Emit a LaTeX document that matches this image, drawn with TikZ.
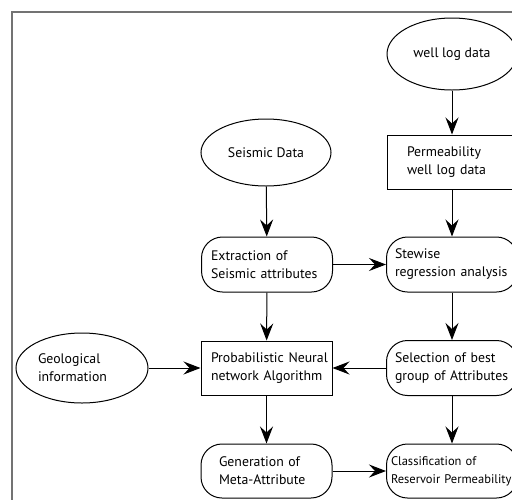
\documentclass[tikz,border=0pt]{standalone}
\usepackage{fontspec}
\setmainfont{PT Sans}
\usetikzlibrary{shapes.geometric,arrows.meta}
\begin{document}
\begin{tikzpicture}[x=1pt,y=-1pt,
  every node/.style={font=\fontsize{13.8}{18}\selectfont, align=left, inner sep=0pt},
  ell/.style={draw, ellipse, line width=1pt, minimum width=130pt, minimum height=68pt},
  boxx/.style={draw, rectangle, line width=1pt, minimum width=130pt, minimum height=54pt},
  rbox/.style={draw, rectangle, rounded corners=21pt, line width=1pt, minimum width=131pt, minimum height=55pt},
  arr/.style={line width=1pt, -{Stealth[length=17pt,width=13pt,inset=6pt]}}]
\useasboundingbox (0,0) rectangle (512,499);
\clip (0,0) rectangle (512,499);
\draw[line width=1.6pt, draw=black!55] (12,12) rectangle (540,530);
\node[ell, minimum height=72pt] (wld) at (452,54) {well log data};
\node[boxx, text width=90pt] (pwl) at (452,162) {\mbox{Permeability}\\\mbox{well log data}};
\node[ell, minimum height=67pt] (sd) at (266,152.5) {Seismic Data};
\node[rbox, text width=112pt] (ext) at (267,264.5) {\mbox{Extraction of}\\\mbox{Seismic attributes}};
\node[rbox, text width=114pt] (sra) at (452,264.5) {\mbox{Stewise}\\\mbox{regression analysis}};
\node[ell, text width=88pt, minimum width=132pt, minimum height=70pt] (geo) at (82,368) {\mbox{Geological}\\\mbox{information}};
\node[boxx, text width=111pt, minimum width=131pt] (pnn) at (266.5,368) {\mbox{Probabilistic Neural}\\\mbox{network Algorithm}};
\node[rbox, text width=114pt] (sel) at (452,368) {\mbox{Selection of best}\\\mbox{group of Attributes}};
\node[rbox, text width=95pt, minimum height=54pt] (gen) at (266.5,471) {\mbox{Generation of}\\\mbox{Meta-Attribute}};
\node[rbox, text width=122pt, minimum height=54pt, font=\fontsize{12.5}{18}\selectfont] (cls) at (452,471) {\mbox{Classification of}\\\mbox{Reservoir Permeability}};
\draw[arr] (wld) -- (pwl);
\draw[arr] (pwl) -- (sra);
\draw[arr] (sd) -- (ext);
\draw[arr] (ext) -- (sra);
\draw[arr] (ext) -- (pnn);
\draw[arr] (sra) -- (sel);
\draw[arr] (geo) -- (pnn);
\draw[arr] (sel) -- (pnn);
\draw[arr] (pnn) -- (gen);
\draw[arr] (sel) -- (cls);
\draw[arr] (gen) -- (cls);
\end{tikzpicture}
\end{document}
